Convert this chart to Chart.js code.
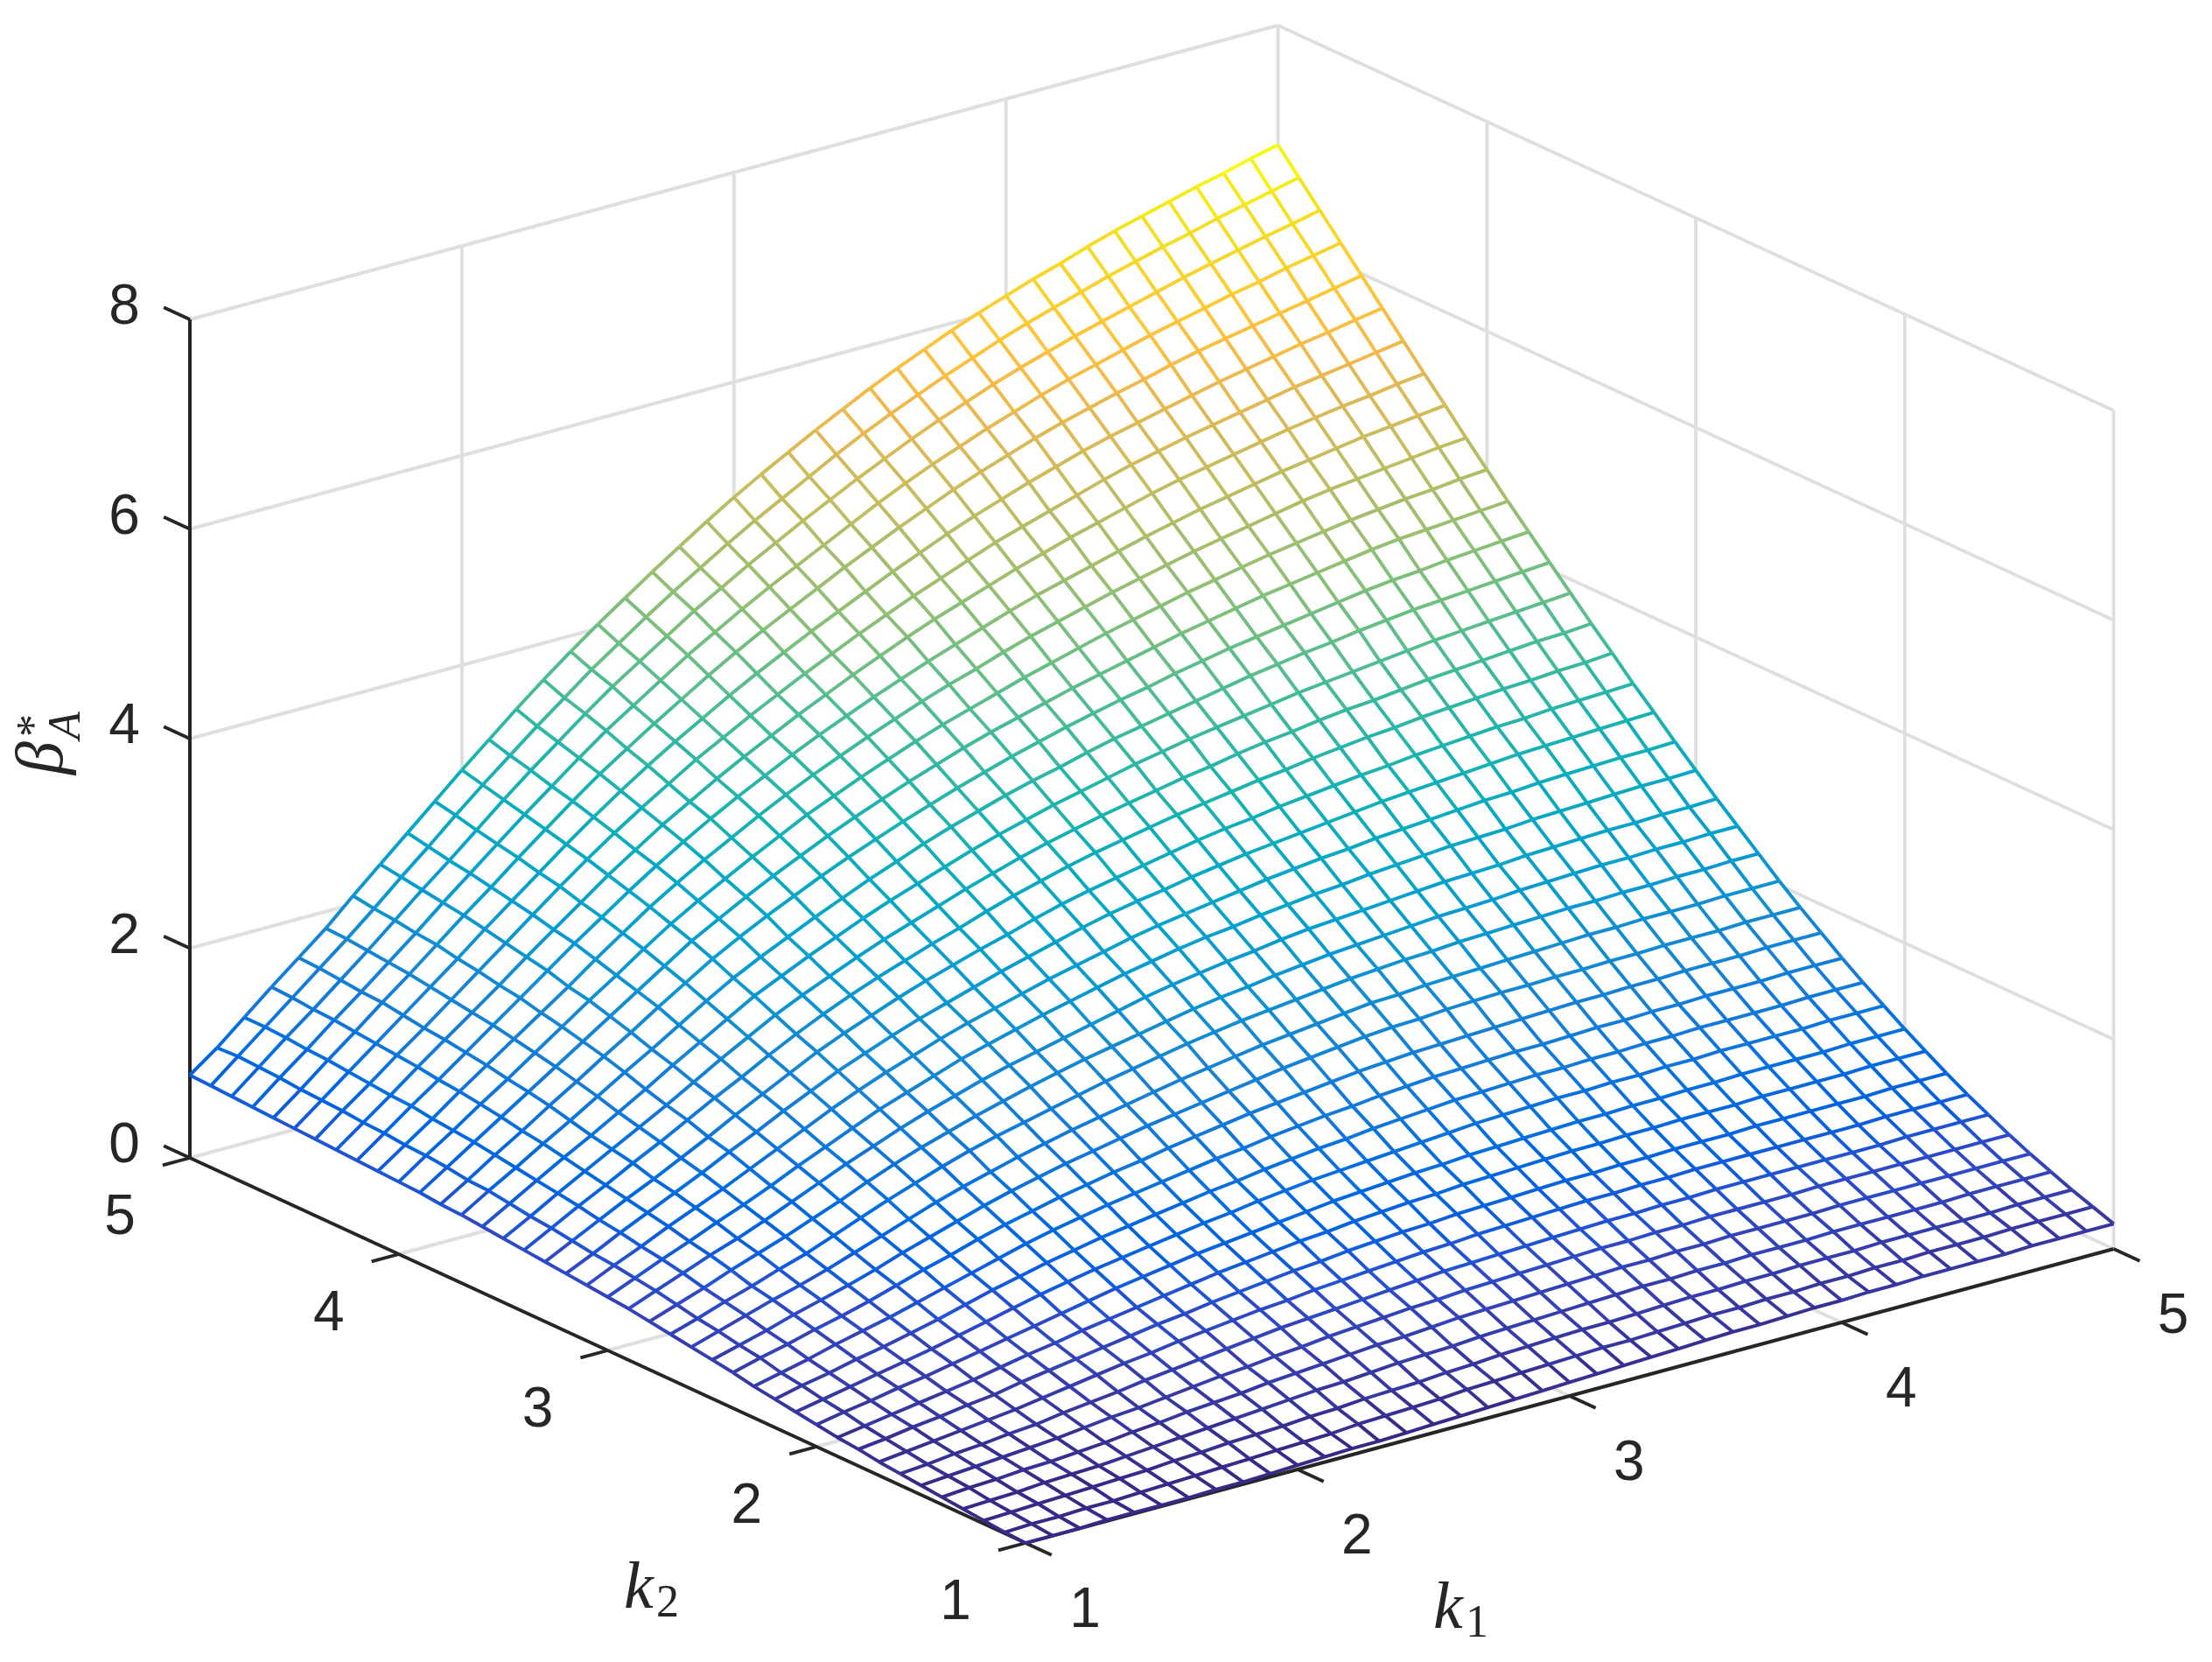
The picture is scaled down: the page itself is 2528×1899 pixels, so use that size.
<!DOCTYPE html>
<html>
<head>
<meta charset="utf-8">
<style>html,body{margin:0;padding:0;background:#fff}canvas{display:block}</style>
<script src="https://cdn.jsdelivr.net/npm/chart.js@4"></script>
</head>
<body>
<canvas id="c" width="2528" height="1899"></canvas>
<script>
const k1Ticks=[1,2,3,4,5];
const k2Ticks=[1,2,3,4,5];
const zTicks=[0,2,4,6,8];
const k1Values=[1,1.1,1.2,1.3,1.4,1.5,1.6,1.7,1.8,1.9,2,2.1,2.2,2.3,2.4,2.5,2.6,2.7,2.8,2.9,3,3.1,3.2,3.3,3.4,3.5,3.6,3.7,3.8,3.9,4,4.1,4.2,4.3,4.4,4.5,4.6,4.7,4.8,4.9,5];
const k2Values=k1Values;
// beta*_A: one row per k2 value (1 to 5), one column per k1 value (1 to 5)
const betaA=[
[0,0,0,.01,.01,.01,.01,.02,.02,.03,.04,.05,.06,.06,.07,.08,.09,.10,.11,.12,.13,.14,.15,.16,.17,.18,.19,.19,.20,.21,.21,.22,.22,.23,.23,.23,.23,.24,.24,.24,.24],
[.01,.02,.02,.03,.03,.04,.05,.06,.07,.08,.09,.10,.11,.13,.14,.15,.16,.18,.19,.20,.21,.22,.23,.23,.24,.25,.26,.26,.27,.27,.28,.28,.29,.29,.30,.30,.30,.31,.31,.31,.31],
[.03,.04,.05,.06,.07,.08,.09,.11,.12,.14,.15,.16,.18,.19,.21,.22,.23,.25,.26,.28,.29,.30,.31,.31,.32,.33,.34,.34,.35,.35,.36,.36,.36,.37,.37,.37,.37,.37,.38,.38,.38],
[.05,.06,.07,.09,.10,.11,.13,.15,.17,.19,.21,.23,.25,.27,.28,.30,.32,.33,.34,.36,.37,.38,.39,.40,.41,.42,.42,.43,.43,.44,.44,.44,.45,.45,.45,.45,.45,.46,.46,.46,.46],
[.07,.09,.10,.12,.13,.15,.17,.20,.22,.25,.27,.29,.32,.34,.36,.38,.40,.41,.43,.45,.46,.47,.48,.49,.50,.51,.51,.52,.52,.53,.53,.53,.53,.54,.54,.54,.54,.54,.54,.54,.54],
[.09,.11,.13,.15,.17,.19,.22,.25,.27,.30,.33,.36,.38,.41,.43,.46,.48,.50,.52,.53,.55,.56,.57,.58,.59,.60,.60,.61,.61,.62,.62,.62,.62,.63,.63,.63,.63,.63,.63,.63,.63],
[.11,.13,.16,.18,.21,.23,.27,.30,.33,.37,.40,.43,.46,.49,.52,.54,.56,.58,.60,.62,.64,.65,.66,.67,.68,.69,.70,.70,.71,.71,.72,.72,.72,.72,.72,.72,.72,.73,.73,.73,.73],
[.13,.16,.19,.22,.25,.28,.32,.36,.40,.44,.47,.51,.54,.57,.60,.62,.65,.67,.69,.71,.73,.74,.76,.77,.78,.79,.80,.80,.81,.81,.82,.82,.82,.82,.82,.82,.82,.83,.83,.83,.83],
[.16,.19,.23,.26,.30,.33,.38,.42,.46,.50,.54,.58,.61,.65,.68,.71,.74,.76,.79,.81,.83,.84,.86,.87,.88,.89,.90,.90,.91,.91,.92,.92,.92,.93,.93,.93,.93,.93,.94,.94,.94],
[.18,.22,.26,.30,.34,.38,.43,.48,.52,.57,.61,.65,.69,.73,.77,.80,.83,.86,.88,.91,.93,.95,.96,.98,.99,1,1.01,1.02,1.02,1.03,1.03,1.04,1.04,1.04,1.05,1.05,1.05,1.05,1.06,1.06,1.06],
[.21,.26,.30,.35,.39,.44,.49,.54,.59,.64,.69,.74,.78,.82,.86,.89,.92,.95,.98,1.01,1.03,1.05,1.07,1.08,1.10,1.11,1.12,1.13,1.14,1.14,1.15,1.15,1.16,1.16,1.17,1.17,1.17,1.17,1.18,1.18,1.18],
[.24,.29,.34,.39,.44,.49,.55,.61,.67,.73,.78,.83,.87,.91,.95,.99,1.02,1.06,1.09,1.12,1.14,1.16,1.18,1.20,1.22,1.24,1.25,1.26,1.27,1.27,1.28,1.28,1.29,1.29,1.30,1.30,1.30,1.30,1.31,1.31,1.31],
[.27,.33,.38,.44,.49,.55,.61,.68,.75,.81,.87,.92,.97,1.01,1.05,1.09,1.13,1.16,1.20,1.23,1.26,1.28,1.31,1.33,1.35,1.37,1.38,1.39,1.40,1.40,1.41,1.41,1.42,1.42,1.43,1.43,1.43,1.43,1.44,1.44,1.44],
[.30,.36,.42,.49,.55,.61,.68,.75,.82,.89,.96,1.02,1.07,1.12,1.16,1.20,1.24,1.28,1.31,1.35,1.38,1.41,1.43,1.46,1.48,1.50,1.51,1.52,1.53,1.53,1.54,1.55,1.55,1.56,1.56,1.57,1.57,1.57,1.58,1.58,1.58],
[.34,.41,.47,.54,.60,.67,.75,.83,.90,.98,1.05,1.11,1.17,1.22,1.27,1.31,1.36,1.40,1.44,1.48,1.51,1.54,1.57,1.60,1.62,1.64,1.65,1.66,1.67,1.68,1.69,1.70,1.70,1.71,1.71,1.72,1.72,1.72,1.73,1.73,1.73],
[.37,.44,.51,.59,.66,.73,.81,.90,.98,1.06,1.14,1.21,1.27,1.33,1.38,1.43,1.48,1.52,1.56,1.60,1.64,1.68,1.71,1.74,1.77,1.79,1.80,1.82,1.83,1.84,1.84,1.85,1.85,1.86,1.86,1.87,1.87,1.87,1.88,1.88,1.88],
[.40,.48,.56,.64,.71,.79,.88,.97,1.06,1.15,1.23,1.30,1.37,1.43,1.49,1.54,1.59,1.64,1.69,1.73,1.77,1.81,1.84,1.87,1.90,1.93,1.94,1.96,1.97,1.98,1.99,2.00,2.01,2.02,2.02,2.03,2.03,2.03,2.04,2.04,2.04],
[.43,.51,.60,.68,.77,.85,.95,1.05,1.15,1.24,1.33,1.41,1.48,1.54,1.60,1.66,1.72,1.77,1.82,1.87,1.91,1.95,1.98,2.01,2.04,2.07,2.09,2.11,2.12,2.14,2.15,2.16,2.17,2.18,2.18,2.19,2.19,2.20,2.20,2.21,2.21],
[.46,.55,.64,.74,.83,.92,1.02,1.12,1.23,1.33,1.42,1.50,1.58,1.65,1.72,1.78,1.84,1.89,1.94,1.99,2.04,2.08,2.11,2.15,2.18,2.21,2.23,2.25,2.27,2.29,2.30,2.31,2.33,2.34,2.35,2.36,2.36,2.37,2.37,2.38,2.38],
[.49,.59,.69,.79,.88,.98,1.09,1.20,1.31,1.41,1.51,1.60,1.68,1.76,1.83,1.89,1.95,2.01,2.07,2.13,2.18,2.22,2.26,2.29,2.33,2.36,2.38,2.40,2.42,2.44,2.46,2.47,2.48,2.50,2.51,2.52,2.53,2.53,2.54,2.54,2.55],
[.51,.62,.73,.83,.94,1.04,1.15,1.27,1.38,1.49,1.60,1.69,1.78,1.87,1.94,2.01,2.08,2.14,2.20,2.26,2.31,2.36,2.40,2.43,2.47,2.50,2.53,2.55,2.58,2.60,2.62,2.64,2.65,2.66,2.68,2.69,2.70,2.71,2.72,2.72,2.73],
[.53,.65,.76,.88,.99,1.10,1.22,1.34,1.46,1.58,1.69,1.79,1.88,1.97,2.05,2.12,2.19,2.26,2.32,2.38,2.44,2.49,2.53,2.57,2.61,2.65,2.68,2.71,2.73,2.76,2.78,2.80,2.82,2.84,2.85,2.87,2.88,2.89,2.90,2.90,2.91],
[.55,.67,.80,.92,1.04,1.16,1.29,1.41,1.54,1.66,1.78,1.88,1.98,2.07,2.15,2.23,2.31,2.38,2.45,2.52,2.58,2.63,2.67,2.72,2.76,2.80,2.83,2.86,2.89,2.92,2.95,2.97,2.99,3.01,3.03,3.05,3.06,3.07,3.08,3.09,3.10],
[.57,.70,.83,.96,1.08,1.21,1.34,1.48,1.61,1.74,1.87,1.98,2.08,2.18,2.27,2.35,2.43,2.50,2.58,2.65,2.71,2.76,2.81,2.86,2.91,2.95,2.98,3.02,3.05,3.08,3.11,3.13,3.16,3.18,3.20,3.22,3.23,3.25,3.26,3.27,3.28],
[.59,.73,.87,1.00,1.14,1.27,1.41,1.55,1.68,1.82,1.95,2.07,2.18,2.28,2.37,2.46,2.54,2.63,2.71,2.78,2.85,2.91,2.96,3.01,3.06,3.10,3.14,3.18,3.21,3.25,3.28,3.31,3.33,3.36,3.38,3.40,3.42,3.43,3.45,3.46,3.48],
[.61,.75,.90,1.04,1.18,1.32,1.46,1.61,1.76,1.90,2.04,2.16,2.27,2.38,2.48,2.57,2.66,2.75,2.83,2.91,2.98,3.04,3.10,3.15,3.20,3.25,3.29,3.34,3.38,3.41,3.45,3.48,3.50,3.53,3.56,3.58,3.60,3.62,3.64,3.65,3.67],
[.63,.78,.93,1.08,1.22,1.37,1.52,1.68,1.83,1.98,2.13,2.25,2.37,2.48,2.59,2.69,2.78,2.87,2.96,3.04,3.11,3.18,3.24,3.30,3.36,3.41,3.46,3.50,3.54,3.58,3.62,3.65,3.68,3.71,3.74,3.77,3.79,3.81,3.83,3.85,3.87],
[.65,.81,.96,1.12,1.27,1.43,1.59,1.74,1.90,2.06,2.21,2.34,2.46,2.58,2.69,2.80,2.90,3.00,3.09,3.17,3.25,3.32,3.38,3.45,3.51,3.56,3.61,3.66,3.71,3.76,3.80,3.84,3.87,3.91,3.94,3.97,3.99,4.01,4.03,4.05,4.07],
[.66,.82,.99,1.15,1.32,1.48,1.65,1.81,1.98,2.14,2.30,2.44,2.57,2.69,2.81,2.92,3.02,3.12,3.21,3.30,3.38,3.46,3.53,3.60,3.66,3.72,3.77,3.83,3.88,3.93,3.97,4.01,4.05,4.09,4.13,4.16,4.18,4.21,4.23,4.25,4.27],
[.68,.85,1.02,1.19,1.36,1.53,1.70,1.87,2.04,2.21,2.38,2.52,2.66,2.79,2.91,3.03,3.14,3.24,3.34,3.43,3.52,3.60,3.67,3.74,3.81,3.87,3.93,3.99,4.05,4.10,4.15,4.20,4.24,4.28,4.32,4.36,4.39,4.41,4.43,4.45,4.47],
[.69,.87,1.04,1.22,1.39,1.57,1.75,1.93,2.10,2.28,2.45,2.60,2.74,2.88,3.01,3.14,3.25,3.36,3.46,3.56,3.65,3.73,3.81,3.89,3.96,4.03,4.10,4.16,4.22,4.28,4.33,4.38,4.43,4.47,4.51,4.55,4.58,4.61,4.63,4.66,4.68],
[.70,.88,1.06,1.25,1.43,1.61,1.79,1.97,2.16,2.34,2.52,2.68,2.83,2.97,3.11,3.24,3.36,3.47,3.58,3.68,3.78,3.87,3.95,4.04,4.12,4.19,4.26,4.33,4.39,4.45,4.51,4.56,4.61,4.66,4.71,4.75,4.78,4.81,4.84,4.87,4.89],
[.71,.90,1.09,1.27,1.46,1.65,1.84,2.03,2.22,2.40,2.58,2.75,2.91,3.06,3.20,3.33,3.46,3.58,3.69,3.80,3.90,4.00,4.09,4.18,4.27,4.35,4.42,4.49,4.56,4.63,4.69,4.75,4.80,4.85,4.90,4.94,4.98,5.02,5.05,5.08,5.11],
[.72,.91,1.10,1.30,1.49,1.68,1.87,2.07,2.26,2.45,2.64,2.81,2.98,3.13,3.28,3.42,3.55,3.68,3.80,3.92,4.03,4.14,4.24,4.33,4.42,4.51,4.59,4.67,4.74,4.81,4.88,4.94,4.99,5.04,5.09,5.14,5.18,5.22,5.25,5.29,5.32],
[.73,.93,1.12,1.32,1.51,1.71,1.91,2.11,2.31,2.51,2.70,2.88,3.05,3.21,3.37,3.51,3.65,3.78,3.91,4.03,4.15,4.26,4.37,4.47,4.57,4.67,4.75,4.83,4.91,4.99,5.06,5.12,5.18,5.23,5.28,5.33,5.38,5.42,5.46,5.50,5.54],
[.74,.94,1.14,1.34,1.54,1.74,1.94,2.15,2.35,2.55,2.75,2.94,3.12,3.29,3.45,3.60,3.75,3.89,4.02,4.15,4.27,4.39,4.51,4.62,4.73,4.83,4.92,5.01,5.09,5.17,5.24,5.30,5.36,5.42,5.48,5.53,5.58,5.63,5.67,5.72,5.76],
[.75,.95,1.16,1.36,1.57,1.77,1.98,2.19,2.39,2.60,2.80,3.00,3.19,3.36,3.53,3.69,3.85,4.00,4.14,4.27,4.40,4.53,4.65,4.77,4.88,4.99,5.09,5.18,5.27,5.35,5.42,5.49,5.55,5.62,5.68,5.73,5.78,5.83,5.88,5.93,5.98],
[.76,.97,1.17,1.38,1.58,1.79,2.00,2.22,2.43,2.64,2.85,3.05,3.25,3.44,3.61,3.78,3.95,4.10,4.25,4.39,4.52,4.65,4.78,4.91,5.03,5.14,5.24,5.34,5.43,5.52,5.60,5.67,5.74,5.81,5.87,5.93,5.99,6.04,6.10,6.15,6.20],
[.77,.98,1.19,1.39,1.60,1.81,2.03,2.25,2.46,2.68,2.90,3.11,3.31,3.51,3.70,3.87,4.04,4.21,4.36,4.51,4.65,4.79,4.92,5.05,5.17,5.29,5.40,5.50,5.60,5.69,5.77,5.85,5.92,5.99,6.06,6.13,6.19,6.25,6.31,6.36,6.42],
[.78,.99,1.20,1.41,1.62,1.83,2.05,2.28,2.50,2.73,2.95,3.16,3.37,3.57,3.77,3.95,4.13,4.30,4.46,4.62,4.77,4.91,5.05,5.19,5.32,5.44,5.55,5.66,5.76,5.86,5.95,6.03,6.11,6.19,6.26,6.33,6.39,6.46,6.52,6.58,6.64],
[.79,.98,1.20,1.42,1.63,1.84,2.08,2.31,2.54,2.77,3.00,3.22,3.44,3.65,3.85,4.04,4.22,4.40,4.57,4.74,4.90,5.05,5.19,5.33,5.46,5.59,5.71,5.82,5.93,6.03,6.12,6.21,6.29,6.38,6.46,6.53,6.60,6.67,6.73,6.80,6.86]
];
const parula=[[.2081,.1663,.5292],[.2116,.1898,.5777],[.2123,.2138,.627],[.2081,.2386,.6771],[.1959,.2645,.7279],[.1707,.2919,.7792],[.1253,.3242,.8303],[.0591,.3598,.8683],[.0117,.3875,.882],[.006,.4086,.8828],[.0165,.4266,.8786],[.0329,.443,.872],[.0498,.4586,.8641],[.0629,.4737,.8554],[.0723,.4887,.8467],[.0779,.504,.8384],[.0793,.5204,.8312],[.0749,.5375,.8263],[.0641,.557,.824],[.0488,.5772,.8228],[.0343,.5966,.8199],[.0265,.6137,.8135],[.0239,.6287,.8038],[.0231,.6418,.7913],[.0228,.6535,.7768],[.0267,.6642,.7607],[.0384,.6743,.7436],[.059,.6838,.7254],[.0843,.6928,.7062],[.1133,.7015,.6859],[.1453,.7098,.6646],[.1801,.7177,.6424],[.2178,.725,.6193],[.2586,.7317,.5954],[.3022,.7376,.5712],[.3482,.7424,.5473],[.3953,.7459,.5244],[.442,.7481,.5033],[.4871,.7491,.484],[.53,.7491,.4661],[.5709,.7485,.4494],[.6099,.7473,.4337],[.6473,.7456,.4188],[.6834,.7435,.4044],[.7184,.7411,.3905],[.7525,.7384,.3768],[.7858,.7356,.3633],[.8185,.7327,.3498],[.8507,.7299,.336],[.8824,.7274,.3217],[.9139,.7258,.3063],[.945,.7261,.2886],[.9739,.7314,.2666],[.9938,.7455,.2403],[.999,.7653,.2164],[.9955,.7861,.1967],[.988,.8066,.1794],[.9789,.8271,.1633],[.9697,.8481,.1475],[.9626,.8705,.1309],[.9589,.8949,.1132],[.9598,.9218,.0948],[.9661,.9514,.0755],[.9763,.9831,.0538]];

// View of the box: screen position of k1=k2=1, beta=0 and the screen step per unit of each axis
const view={ox:1172,oy:1763,k1x:310.9,k1y:-84,k2x:-238.75,k2y:-110,zy:-119.75};
const project=(k1,k2,z)=>({x:view.ox+(k1-1)*view.k1x+(k2-1)*view.k2x,y:view.oy+(k1-1)*view.k1y+(k2-1)*view.k2y+z*view.zy});
const zMax=Math.max(...betaA.map(r=>Math.max(...r)));
const colorOf=z=>{const i=Math.min(63,Math.max(0,Math.floor(z/zMax*64)));const c=parula[i];return `rgb(${Math.round(c[0]*255)},${Math.round(c[1]*255)},${Math.round(c[2]*255)})`;};

const datasets=[];
const meshLine=pts=>{const data=pts.map(([a,b,z])=>({...project(a,b,z),z}));
  datasets.push({data,order:0,borderWidth:3.9,borderColor:colorOf(data[0].z),pointRadius:0,fill:false,tension:0,borderJoinStyle:'round',
    segment:{borderColor:ctx=>colorOf((data[ctx.p0DataIndex].z+data[ctx.p1DataIndex].z)/2)}});};
k2Values.forEach((k2,r)=>meshLine(k1Values.map((k1,c)=>[k1,k2,betaA[r][c]])));
k1Values.forEach((k1,c)=>meshLine(k2Values.map((k2,r)=>[k1,k2,betaA[r][c]])));

// hidden-line face of the mesh
const last=k1Values.length-1;
const outline=[
  ...k1Values.map((k1,c)=>project(k1,1,betaA[0][c])),
  ...k2Values.map((k2,r)=>project(5,k2,betaA[r][last])),
  ...k1Values.map((k1,c)=>project(k1,5,betaA[last][c])).reverse(),
  ...k2Values.map((k2,r)=>project(1,k2,betaA[r][0])).reverse()];
datasets.push({data:outline,order:1,borderWidth:0,pointRadius:0,fill:'shape',backgroundColor:'#ffffff',tension:0});

const seg=(a,b,color,order,w)=>datasets.push({data:[project(...a),project(...b)],order,borderColor:color,borderWidth:w,pointRadius:0,fill:false,tension:0});
const INK='#262626',GRID='#dfdfdf';
// black axes and ticks
seg([1,5,0],[1,5,8],INK,2,4);seg([1,5,0],[1,1,0],INK,2,4);seg([1,1,0],[5,1,0],INK,2,4);
zTicks.forEach(z=>seg([1,5,z],[1,5.125,z],INK,2,3.8));
k2Ticks.forEach(k=>seg([1,k,0],[.9,k,0],INK,2,3.8));
k1Ticks.forEach(k=>seg([k,1,0],[k,.875,0],INK,2,3.8));
// back walls and floor
zTicks.forEach(z=>{seg([1,5,z],[5,5,z],GRID,3,3.9);seg([5,5,z],[5,1,z],GRID,3,3.9);});
k1Ticks.slice(1).forEach(k=>seg([k,5,0],[k,5,8],GRID,3,3.9));
k2Ticks.slice(0,4).forEach(k=>seg([5,k,0],[5,k,8],GRID,3,3.9));
k1Ticks.slice(1,4).forEach(k=>seg([k,1,0],[k,5,0],GRID,3,3.9));
k2Ticks.slice(1,4).forEach(k=>seg([1,k,0],[5,k,0],GRID,3,3.9));

const labels={id:'labels',afterDraw(chart){
  const {ctx,scales:{x:sx,y:sy}}=chart;
  ctx.save();ctx.fillStyle=INK;ctx.textAlign='center';ctx.textBaseline='alphabetic';
  ctx.font='64px "Liberation Sans"';
  const put=(t,p,dx,dy)=>ctx.fillText(t,sx.getPixelForValue(p.x)+dx,sy.getPixelForValue(p.y)+dy+23);
  zTicks.forEach(z=>put(String(z),project(1,5,z),-75,-18));
  k2Ticks.forEach(k=>put(String(k),project(1,k,0),-80,64));
  k1Ticks.forEach(k=>put(String(k),project(k,1,0),68,73));
  ctx.textAlign='left';
  const serifI='italic 76px "Liberation Serif"',serif='52px "Liberation Serif"',serifIs='italic 52px "Liberation Serif"';
  ctx.font=serifI;ctx.fillText('k',713,1837);ctx.font=serif;ctx.fillText('2',750,1847);
  ctx.font=serifI;ctx.fillText('k',1638,1860);ctx.font=serif;ctx.fillText('1',1675,1870);
  const rot=(t,f,x,y)=>{ctx.save();ctx.translate(x,y);ctx.rotate(-Math.PI/2);ctx.font=f;ctx.fillText(t,0,0);ctx.restore();};
  rot('β',serifI,71,885);rot('*',serif,55,842);rot('A',serifIs,91,845);
  ctx.restore();
}};

new Chart(document.getElementById('c'),{type:'line',data:{datasets},plugins:[labels],options:{
  responsive:false,animation:false,events:[],devicePixelRatio:1,
  layout:{padding:0},
  plugins:{legend:{display:false},tooltip:{enabled:false},title:{display:false}},
  scales:{x:{type:'linear',min:0,max:2528,display:false},y:{type:'linear',min:0,max:1899,reverse:true,display:false}}
}});
</script>
</body>
</html>
